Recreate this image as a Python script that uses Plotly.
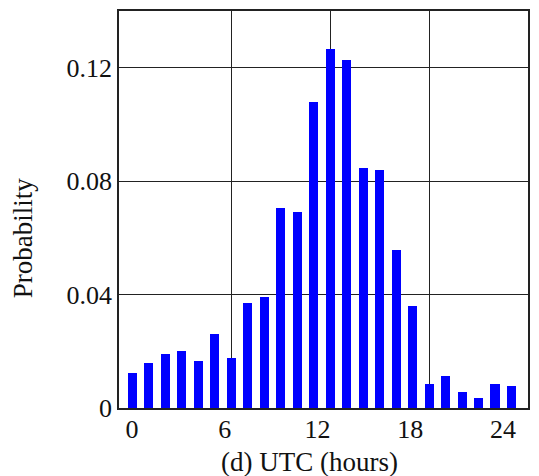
import plotly.graph_objects as go

# Hourly occurrence probability by UTC hour
hours = list(range(24))
probability = [0.0125, 0.016, 0.019, 0.020, 0.0166, 0.026, 0.0177, 0.037,
               0.0393, 0.0707, 0.069, 0.108, 0.1267, 0.1226, 0.0847, 0.0841,
               0.0556, 0.0358, 0.0084, 0.0113, 0.0055, 0.0037, 0.0084, 0.0078]

x_tick_vals = [0, 6, 12, 18, 24]
x_tick_text = ["0", "6", "12", "18", "24"]
y_tick_vals = [0, 0.04, 0.08, 0.12]
y_tick_text = ["0", "0.04", "0.08", "0.12"]

x_title = "(d) UTC (hours)"
y_title = "Probability"

FONT = "Liberation Serif"
SIZE = 26
TXT = "#111"

fig = go.Figure()
fig.add_trace(go.Bar(
    x=hours, y=probability, width=0.55,
    marker=dict(color="#0000FF", line=dict(width=0)),
    showlegend=False,
))

fig.update_layout(
    width=539, height=476,
    margin=dict(l=119, r=11, t=9, b=68),
    plot_bgcolor="white", paper_bgcolor="white",
    font=dict(family=FONT, size=SIZE, color=TXT),
    xaxis=dict(
        range=[-0.8, 24.0], tickvals=[6, 12, 18, 24], showticklabels=False,
        showgrid=True, gridcolor="#222", gridwidth=1.2, zeroline=False,
        showline=True, linecolor="#222", linewidth=1.5, mirror=True, ticks="",
    ),
    # label axis carrying the hour tick labels
    xaxis2=dict(
        overlaying="x", side="bottom", anchor="y",
        range=[-0.84, 25.62], tickvals=x_tick_vals, ticktext=x_tick_text,
        showgrid=False, zeroline=False, showline=False, ticks="",
        ticklabelstandoff=3,
        tickfont=dict(family=FONT, size=SIZE, color=TXT),
    ),
    yaxis=dict(
        range=[0, 0.14], tickvals=y_tick_vals, ticktext=y_tick_text,
        showgrid=True, gridcolor="#222", gridwidth=1.2, zeroline=False,
        showline=True, linecolor="#222", linewidth=1.5, mirror=True, ticks="",
        tickfont=dict(family=FONT, size=SIZE, color=TXT),
    ),
    bargap=0,
)
# invisible trace so the label axis is drawn
fig.add_trace(go.Scatter(x=[0, 24], y=[None, None], xaxis="x2", mode="markers",
                         showlegend=False, hoverinfo="skip"))

fig.add_annotation(text=x_title, xref="paper", yref="paper", x=0.465, y=-0.137,
                   xanchor="center", yanchor="middle", showarrow=False,
                   font=dict(family=FONT, size=SIZE + 1, color=TXT))
fig.add_annotation(text=y_title, xref="paper", yref="paper", x=-0.236, y=0.429,
                   xanchor="center", yanchor="middle", textangle=-90, showarrow=False,
                   font=dict(family=FONT, size=SIZE + 1, color=TXT))

fig.write_html("out.html")
